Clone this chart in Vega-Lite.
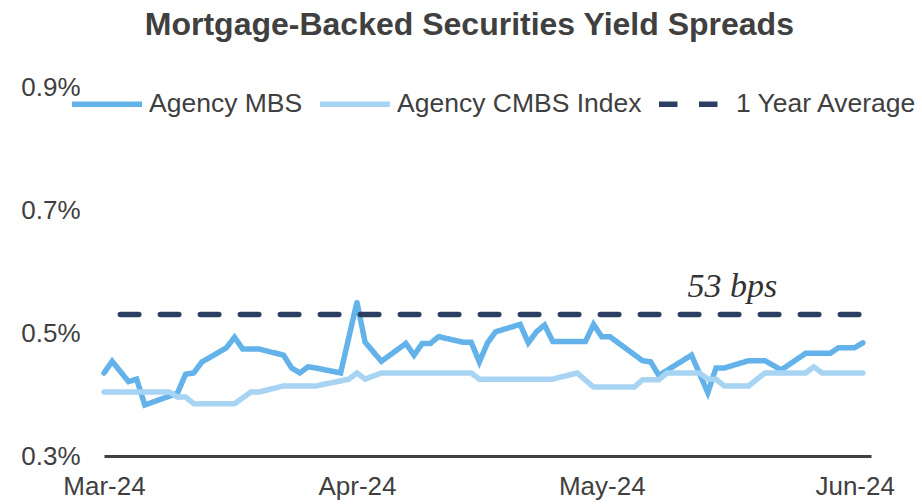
{
  "$schema": "https://vega.github.io/schema/vega-lite/v6.json",
  "autosize": "none",
  "width": 767,
  "height": 369,
  "padding": {"left": 104, "top": 87, "right": 51, "bottom": 48},
  "background": "white",
  "title": {"text": "Mortgage-Backed Securities Yield Spreads", "fontSize": 32, "fontWeight": "bold", "color": "#404040", "font": "Liberation Sans", "anchor": "middle", "frame": "bounds", "offset": 24},
  "config": {"view": {"stroke": null}, "font": "Liberation Sans"},
  "data": {"values": [
    {"date": "2024-03-01", "value": 0.435, "series": "Agency MBS"},
    {"date": "2024-03-02", "value": 0.454, "series": "Agency MBS"},
    {"date": "2024-03-04", "value": 0.421, "series": "Agency MBS"},
    {"date": "2024-03-05", "value": 0.425, "series": "Agency MBS"},
    {"date": "2024-03-06", "value": 0.383, "series": "Agency MBS"},
    {"date": "2024-03-10", "value": 0.402, "series": "Agency MBS"},
    {"date": "2024-03-11", "value": 0.433, "series": "Agency MBS"},
    {"date": "2024-03-12", "value": 0.435, "series": "Agency MBS"},
    {"date": "2024-03-13", "value": 0.453, "series": "Agency MBS"},
    {"date": "2024-03-16", "value": 0.476, "series": "Agency MBS"},
    {"date": "2024-03-17", "value": 0.493, "series": "Agency MBS"},
    {"date": "2024-03-18", "value": 0.474, "series": "Agency MBS"},
    {"date": "2024-03-20", "value": 0.474, "series": "Agency MBS"},
    {"date": "2024-03-23", "value": 0.464, "series": "Agency MBS"},
    {"date": "2024-03-24", "value": 0.443, "series": "Agency MBS"},
    {"date": "2024-03-25", "value": 0.435, "series": "Agency MBS"},
    {"date": "2024-03-26", "value": 0.445, "series": "Agency MBS"},
    {"date": "2024-03-27", "value": 0.443, "series": "Agency MBS"},
    {"date": "2024-03-30", "value": 0.435, "series": "Agency MBS"},
    {"date": "2024-04-01", "value": 0.55, "series": "Agency MBS"},
    {"date": "2024-04-02", "value": 0.485, "series": "Agency MBS"},
    {"date": "2024-04-04", "value": 0.454, "series": "Agency MBS"},
    {"date": "2024-04-07", "value": 0.483, "series": "Agency MBS"},
    {"date": "2024-04-08", "value": 0.464, "series": "Agency MBS"},
    {"date": "2024-04-09", "value": 0.483, "series": "Agency MBS"},
    {"date": "2024-04-10", "value": 0.483, "series": "Agency MBS"},
    {"date": "2024-04-11", "value": 0.494, "series": "Agency MBS"},
    {"date": "2024-04-14", "value": 0.485, "series": "Agency MBS"},
    {"date": "2024-04-15", "value": 0.485, "series": "Agency MBS"},
    {"date": "2024-04-16", "value": 0.453, "series": "Agency MBS"},
    {"date": "2024-04-17", "value": 0.484, "series": "Agency MBS"},
    {"date": "2024-04-18", "value": 0.502, "series": "Agency MBS"},
    {"date": "2024-04-21", "value": 0.514, "series": "Agency MBS"},
    {"date": "2024-04-22", "value": 0.484, "series": "Agency MBS"},
    {"date": "2024-04-23", "value": 0.502, "series": "Agency MBS"},
    {"date": "2024-04-24", "value": 0.513, "series": "Agency MBS"},
    {"date": "2024-04-25", "value": 0.486, "series": "Agency MBS"},
    {"date": "2024-04-29", "value": 0.486, "series": "Agency MBS"},
    {"date": "2024-04-30", "value": 0.514, "series": "Agency MBS"},
    {"date": "2024-05-01", "value": 0.494, "series": "Agency MBS"},
    {"date": "2024-05-02", "value": 0.494, "series": "Agency MBS"},
    {"date": "2024-05-06", "value": 0.455, "series": "Agency MBS"},
    {"date": "2024-05-07", "value": 0.453, "series": "Agency MBS"},
    {"date": "2024-05-08", "value": 0.431, "series": "Agency MBS"},
    {"date": "2024-05-12", "value": 0.464, "series": "Agency MBS"},
    {"date": "2024-05-14", "value": 0.403, "series": "Agency MBS"},
    {"date": "2024-05-15", "value": 0.443, "series": "Agency MBS"},
    {"date": "2024-05-16", "value": 0.443, "series": "Agency MBS"},
    {"date": "2024-05-19", "value": 0.455, "series": "Agency MBS"},
    {"date": "2024-05-21", "value": 0.455, "series": "Agency MBS"},
    {"date": "2024-05-23", "value": 0.44, "series": "Agency MBS"},
    {"date": "2024-05-26", "value": 0.467, "series": "Agency MBS"},
    {"date": "2024-05-29", "value": 0.467, "series": "Agency MBS"},
    {"date": "2024-05-30", "value": 0.476, "series": "Agency MBS"},
    {"date": "2024-06-01", "value": 0.476, "series": "Agency MBS"},
    {"date": "2024-06-02", "value": 0.484, "series": "Agency MBS"},
    {"date": "2024-03-01", "value": 0.404, "series": "Agency CMBS Index"},
    {"date": "2024-03-09", "value": 0.404, "series": "Agency CMBS Index"},
    {"date": "2024-03-10", "value": 0.396, "series": "Agency CMBS Index"},
    {"date": "2024-03-11", "value": 0.396, "series": "Agency CMBS Index"},
    {"date": "2024-03-12", "value": 0.385, "series": "Agency CMBS Index"},
    {"date": "2024-03-17", "value": 0.385, "series": "Agency CMBS Index"},
    {"date": "2024-03-19", "value": 0.404, "series": "Agency CMBS Index"},
    {"date": "2024-03-20", "value": 0.404, "series": "Agency CMBS Index"},
    {"date": "2024-03-23", "value": 0.414, "series": "Agency CMBS Index"},
    {"date": "2024-03-27", "value": 0.414, "series": "Agency CMBS Index"},
    {"date": "2024-03-30", "value": 0.422, "series": "Agency CMBS Index"},
    {"date": "2024-03-31", "value": 0.425, "series": "Agency CMBS Index"},
    {"date": "2024-04-01", "value": 0.435, "series": "Agency CMBS Index"},
    {"date": "2024-04-02", "value": 0.425, "series": "Agency CMBS Index"},
    {"date": "2024-04-04", "value": 0.435, "series": "Agency CMBS Index"},
    {"date": "2024-04-15", "value": 0.435, "series": "Agency CMBS Index"},
    {"date": "2024-04-16", "value": 0.425, "series": "Agency CMBS Index"},
    {"date": "2024-04-25", "value": 0.425, "series": "Agency CMBS Index"},
    {"date": "2024-04-28", "value": 0.435, "series": "Agency CMBS Index"},
    {"date": "2024-04-30", "value": 0.412, "series": "Agency CMBS Index"},
    {"date": "2024-05-05", "value": 0.412, "series": "Agency CMBS Index"},
    {"date": "2024-05-06", "value": 0.424, "series": "Agency CMBS Index"},
    {"date": "2024-05-08", "value": 0.424, "series": "Agency CMBS Index"},
    {"date": "2024-05-09", "value": 0.435, "series": "Agency CMBS Index"},
    {"date": "2024-05-13", "value": 0.435, "series": "Agency CMBS Index"},
    {"date": "2024-05-14", "value": 0.425, "series": "Agency CMBS Index"},
    {"date": "2024-05-15", "value": 0.425, "series": "Agency CMBS Index"},
    {"date": "2024-05-16", "value": 0.414, "series": "Agency CMBS Index"},
    {"date": "2024-05-19", "value": 0.414, "series": "Agency CMBS Index"},
    {"date": "2024-05-21", "value": 0.435, "series": "Agency CMBS Index"},
    {"date": "2024-05-26", "value": 0.435, "series": "Agency CMBS Index"},
    {"date": "2024-05-27", "value": 0.445, "series": "Agency CMBS Index"},
    {"date": "2024-05-28", "value": 0.435, "series": "Agency CMBS Index"},
    {"date": "2024-06-02", "value": 0.435, "series": "Agency CMBS Index"},
    {"date": "2024-03-03", "value": 0.53, "series": "1 Year Average"},
    {"date": "2024-06-02", "value": 0.53, "series": "1 Year Average"}
  ]},
  "layer": [
    {
      "mark": {"type": "line", "strokeWidth": 5.5, "strokeCap": "round", "strokeJoin": "miter"},
      "encoding": {
        "x": {"field": "date", "type": "temporal",
          "scale": {"type": "utc", "domain": [{"year": 2024, "month": "mar", "date": 1, "utc": true}, {"year": 2024, "month": "jun", "date": 3, "utc": true}]},
          "axis": {"title": null, "format": "%b-%y", "values": [{"year": 2024, "month": "mar", "date": 1, "utc": true}, {"year": 2024, "month": "apr", "date": 1, "utc": true}, {"year": 2024, "month": "may", "date": 1, "utc": true}, {"year": 2024, "month": "jun", "date": 1, "utc": true}],
            "grid": false, "ticks": false, "domain": true, "domainColor": "#404040", "domainWidth": 3, "labelFontSize": 26, "labelColor": "#404040", "labelPadding": 17, "labelFont": "Liberation Sans", "labelFlush": false}},
        "y": {"field": "value", "type": "quantitative",
          "scale": {"domain": [0.3, 0.9], "nice": false, "zero": false},
          "axis": {"title": null, "values": [0.3, 0.5, 0.7, 0.9], "labelExpr": "format(datum.value, '.1f') + '%'", "grid": false, "ticks": false, "domain": false, "labelFontSize": 26, "labelColor": "#404040", "labelPadding": 24, "labelFont": "Liberation Sans"}},
        "color": {"field": "series", "type": "nominal",
          "scale": {"domain": ["Agency MBS", "Agency CMBS Index", "1 Year Average"], "range": ["#63b2e9", "#a8d4f3", "#2d3e63"]},
          "legend": {"title": null, "orient": "none", "direction": "horizontal", "legendX": -35, "legendY": -21, "symbolType": "stroke", "symbolSize": 4900, "symbolStrokeWidth": 5.5, "labelFontSize": 26.5, "labelColor": "#404040", "labelFont": "Liberation Sans", "labelOffset": 4, "columnPadding": 6, "labelLimit": 400}},
        "strokeDash": {"field": "series", "type": "nominal",
          "scale": {"domain": ["Agency MBS", "Agency CMBS Index", "1 Year Average"], "range": [[1, 0], [1, 0], [18.5, 21.5]]},
          "legend": {"title": null, "orient": "none", "direction": "horizontal", "legendX": -35, "legendY": -21, "symbolType": "stroke", "symbolSize": 4900, "symbolStrokeWidth": 5.5, "labelFontSize": 26.5, "labelColor": "#404040", "labelFont": "Liberation Sans", "labelOffset": 4, "columnPadding": 6, "labelLimit": 400}}
      }
    },
    {
      "data": {"values": [{"label": "53 bps"}]},
      "mark": {"type": "text", "font": "Liberation Serif", "fontStyle": "italic", "fontSize": 34, "color": "#333333", "align": "center", "baseline": "alphabetic"},
      "encoding": {
        "x": {"datum": {"year": 2024, "month": "may", "date": 17, "utc": true}, "type": "temporal"},
        "y": {"datum": 0.559, "type": "quantitative"},
        "text": {"field": "label"}
      }
    }
  ]
}
